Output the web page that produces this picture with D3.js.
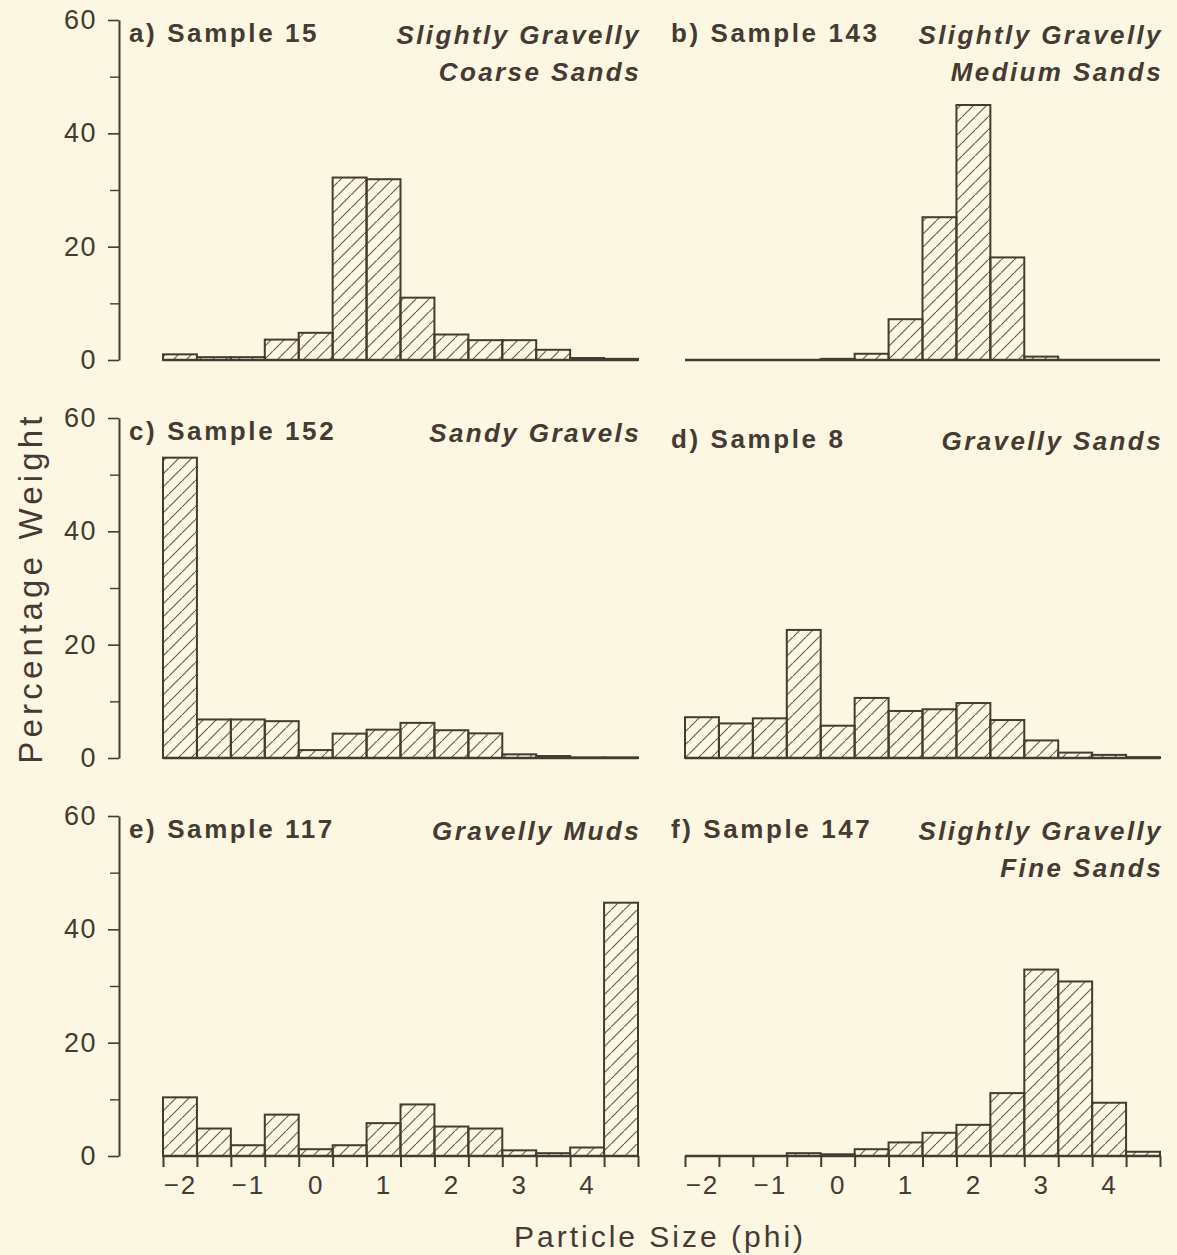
<!DOCTYPE html>
<html>
<head>
<meta charset="utf-8">
<script src="https://cdn.jsdelivr.net/npm/d3@7"></script>
<style>
  html, body { margin: 0; padding: 0; background: #fbf7e2; }
  svg { display: block; }
  text { font-family: "Liberation Sans", Arial, Helvetica, sans-serif; fill: #463a33; }
</style>
</head>
<body>
<svg id="chart" width="1177" height="1255"></svg>
<script>
// Grain-size classes (phi), half-phi bins
const binCenters = [-2, -1.5, -1, -0.5, 0, 0.5, 1, 1.5, 2, 2.5, 3, 3.5, 4, 4.5];
const xTickLabels = [-2, -1, 0, 1, 2, 3, 4];
const yTicks = [0, 20, 40, 60];
const yMinorTicks = [10, 30, 50];

// Panel headings
const panelLetters = ["a", "b", "c", "d", "e", "f"];
const sampleIds = [15, 143, 152, 8, 117, 147];
const sedimentClasses = [
  ["Slightly Gravelly", "Coarse Sands"],
  ["Slightly Gravelly", "Medium Sands"],
  ["Sandy Gravels"],
  ["Gravelly Sands"],
  ["Gravelly Muds"],
  ["Slightly Gravelly", "Fine Sands"]
];

// Percentage weight per bin
const sample15  = [1.0, 0.5, 0.5, 3.6, 4.8, 32.2, 31.9, 11.0, 4.5, 3.5, 3.5, 1.8, 0.35, 0.2];
const sample143 = [0, 0, 0, 0, 0.2, 1.1, 7.2, 25.2, 45.0, 18.1, 0.6, 0, 0, 0];
const sample152 = [53.0, 6.8, 6.8, 6.5, 1.4, 4.3, 5.0, 6.2, 4.9, 4.35, 0.65, 0.35, 0.1, 0.1];
const sample8   = [7.2, 6.1, 7.0, 22.6, 5.7, 10.6, 8.3, 8.6, 9.7, 6.7, 3.1, 0.95, 0.55, 0.15];
const sample117 = [10.35, 4.85, 1.9, 7.3, 1.2, 1.9, 5.8, 9.1, 5.2, 4.85, 1.0, 0.5, 1.5, 44.7];
const sample147 = [0, 0, 0, 0.5, 0.3, 1.2, 2.4, 4.1, 5.5, 11.1, 32.9, 30.8, 9.4, 0.75];

const sampleValues = [sample15, sample143, sample152, sample8, sample117, sample147];

// ---- layout ----
const INK = "#463a33";
const FONT = "'Liberation Sans', Arial, Helvetica, sans-serif";
const colRanges = [[163, 638], [685, 1160]];
const rowRanges = [[360, 20], [758, 418], [1156, 816]];
const headingShift = [0, 0, 0, 8, 0, 0];
const halfBin = 0.25;

const svg = d3.select("#chart");

const defs = svg.append("defs");
const pat = defs.append("pattern")
  .attr("id", "hatch")
  .attr("patternUnits", "userSpaceOnUse")
  .attr("width", 13).attr("height", 13);
pat.append("path")
  .attr("d", "M-2,15 L15,-2 M-4,2 L2,-4 M11,17 L17,11")
  .attr("stroke", "#6d5d52")
  .attr("stroke-width", 1.2)
  .attr("fill", "none");

const panelsData = sampleValues.map((vals, i) => ({
  idx: i,
  letter: panelLetters[i],
  id: sampleIds[i],
  cls: sedimentClasses[i],
  col: i % 2,
  row: Math.floor(i / 2),
  bins: binCenters.map((c, k) => ({ c, v: vals[k] }))
}));

panelsData.forEach(p => {
  const x = d3.scaleLinear()
    .domain([binCenters[0] - halfBin, binCenters[binCenters.length - 1] + halfBin])
    .range(colRanges[p.col]);
  const y = d3.scaleLinear().domain([0, 60]).range(rowRanges[p.row]);
  const g = svg.append("g");

  // bars
  g.selectAll("rect.bar")
    .data(p.bins.filter(d => d.v > 0))
    .join("rect")
    .attr("class", "bar")
    .attr("x", d => x(d.c - halfBin))
    .attr("width", d => x(d.c + halfBin) - x(d.c - halfBin))
    .attr("y", d => y(d.v))
    .attr("height", d => y(0) - y(d.v))
    .attr("fill", "url(#hatch)")
    .attr("stroke", INK)
    .attr("stroke-width", 2);

  // baseline
  g.append("line")
    .attr("x1", x.range()[0]).attr("x2", x.range()[1])
    .attr("y1", y(0)).attr("y2", y(0))
    .attr("stroke", INK).attr("stroke-width", 2.6);

  // y axis on left column
  if (p.col === 0) {
    const ax = d3.axisLeft(y).tickValues(yTicks).tickSize(11).tickSizeOuter(0).tickPadding(11);
    const ag = g.append("g").attr("transform", `translate(119,0)`).call(ax);
    ag.select(".domain").attr("stroke", INK).attr("stroke-width", 2);
    ag.selectAll(".tick line").attr("stroke", INK).attr("stroke-width", 1.6);
    ag.selectAll(".tick text")
      .attr("font-size", 27).attr("letter-spacing", 1.5)
      .attr("fill", INK).style("font-family", FONT);
    const mg = g.append("g").attr("transform", `translate(119,0)`)
      .call(d3.axisLeft(y).tickValues(yMinorTicks).tickSize(9).tickFormat(""));
    mg.select(".domain").remove();
    mg.selectAll(".tick line").attr("stroke", INK).attr("stroke-width", 1.4);
  }

  // x axis on bottom row
  if (p.row === 2) {
    const edges = binCenters.map(c => c - halfBin).concat([binCenters[binCenters.length - 1] + halfBin]);
    const tg = g.append("g").attr("transform", `translate(0,${y(0)})`)
      .call(d3.axisBottom(x).tickValues(edges).tickSize(11).tickSizeOuter(0).tickFormat(""));
    tg.select(".domain").remove();
    tg.selectAll(".tick line").attr("stroke", INK).attr("stroke-width", 2);
    const lg = g.append("g").attr("transform", `translate(0,${y(0)})`)
      .call(d3.axisBottom(x).tickValues(xTickLabels).tickSize(0).tickPadding(20).tickFormat(d3.format("d")));
    lg.select(".domain").remove();
    lg.selectAll(".tick text")
      .attr("font-size", 26).attr("letter-spacing", 2)
      .attr("fill", INK).style("font-family", FONT);
  }

  // headings
  const top = y(60) + headingShift[p.idx];
  g.append("text")
    .attr("x", p.col === 0 ? x.range()[0] - 34 : x.range()[0] - 14)
    .attr("y", top + 22)
    .attr("font-size", 26).attr("font-weight", "bold").attr("letter-spacing", 2.6)
    .text(`${p.letter}) Sample ${p.id}`);
  p.cls.forEach((line, j) => {
    g.append("text")
      .attr("x", x.range()[1] + 3)
      .attr("y", top + 24 + j * 37)
      .attr("text-anchor", "end")
      .attr("font-size", 26).attr("font-weight", "bold").attr("font-style", "italic")
      .attr("letter-spacing", 2.4)
      .text(line);
  });
});

// axis titles
svg.append("text")
  .attr("transform", "translate(42,588) rotate(-90)")
  .attr("text-anchor", "middle")
  .attr("font-size", 33).attr("letter-spacing", 4.2)
  .text("Percentage Weight");

svg.append("text")
  .attr("x", 660).attr("y", 1247)
  .attr("text-anchor", "middle")
  .attr("font-size", 30).attr("letter-spacing", 3)
  .text("Particle Size (phi)");
</script>
</body>
</html>
